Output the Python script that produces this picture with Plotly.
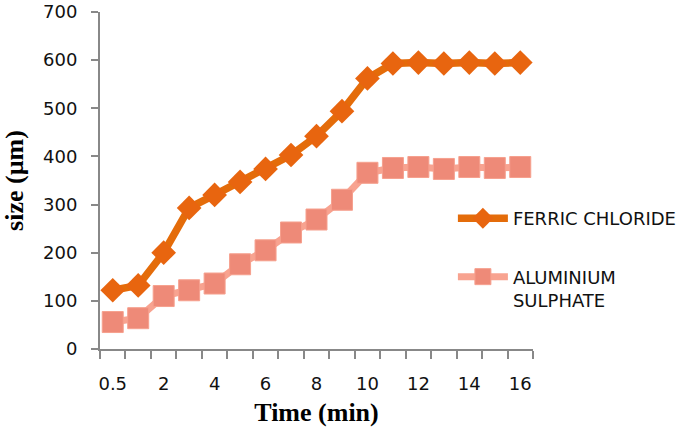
import plotly.graph_objects as go

time_labels = ["0.5", "1", "2", "3", "4", "5", "6", "7", "8", "9", "10",
               "11", "12", "13", "14", "15", "16"]
ferric = [122, 132, 200, 293, 320, 347, 374, 403, 442, 494, 562,
          593, 595, 593, 595, 593, 595]
alum = [56, 64, 110, 122, 136, 176, 205, 242, 269, 310, 366,
        376, 378, 374, 378, 376, 378]
shown_ticks = ["0.5", "2", "4", "6", "8", "10", "12", "14", "16"]
y_ticks = [0, 100, 200, 300, 400, 500, 600, 700]

fig = go.Figure()
fig.add_trace(go.Scatter(
    x=time_labels, y=ferric, name="FERRIC CHLORIDE", mode="lines+markers",
    legendgroup="a",
    line=dict(color="#E46C0A", width=7.5),
    marker=dict(symbol="diamond", size=19, color="#E8650F",
                line=dict(width=0)),
))
fig.add_trace(go.Scatter(
    x=time_labels, y=alum, name="ALUMINIUM<br>SULPHATE", mode="lines+markers",
    legendgroup="b",
    line=dict(color="#F8A390", width=7),
    marker=dict(symbol="square", size=21, color="#EE8A78",
                line=dict(width=1, color="#F6A08E")),
))

ticktext = [t if t in shown_ticks else "" for t in time_labels]
tickfont = dict(family="DejaVu Sans", size=18, color="#111111")

fig.update_layout(
    width=685, height=428,
    margin=dict(l=100, r=152, t=12, b=79, autoexpand=False),
    paper_bgcolor="white", plot_bgcolor="white",
    font=dict(family="DejaVu Sans", size=18, color="#111111"),
    showlegend=True,
    legend=dict(x=0.815, y=0.442, xanchor="left", yanchor="top",
                valign="top",
                font=dict(family="DejaVu Sans", size=18, color="#111111"),
                itemwidth=50, tracegroupgap=32, bgcolor="rgba(0,0,0,0)"),
    xaxis=dict(
        type="category", categoryorder="array", categoryarray=time_labels,
        tickmode="array", tickvals=time_labels, ticktext=ticktext,
        tickson="boundaries", ticks="outside", ticklen=8, tickwidth=2,
        tickcolor="#888888", showline=True, linecolor="#888888", linewidth=2,
        showgrid=False, zeroline=False, range=[-0.5, 16.5],
        tickangle=0, automargin=False, ticklabelstandoff=17,
        tickfont=tickfont,
        title=dict(text="<b>Time (min)</b>", standoff=10,
                   font=dict(family="Liberation Serif", size=26, color="#000000")),
    ),
    yaxis=dict(
        range=[0, 700], tickmode="array", tickvals=y_ticks,
        ticks="outside", ticklen=7, tickwidth=2,
        tickcolor="#888888", showline=True, linecolor="#888888", linewidth=2,
        showgrid=False, zeroline=False, automargin=False,
        ticklabelstandoff=10, tickfont=tickfont,
        title=dict(text="<b>size (µm)</b>", standoff=28,
                   font=dict(family="Liberation Serif", size=26, color="#000000")),
    ),
)

fig.write_html("out.html", config={"displayModeBar": False},
               post_script="document.body.style.margin='0';")
